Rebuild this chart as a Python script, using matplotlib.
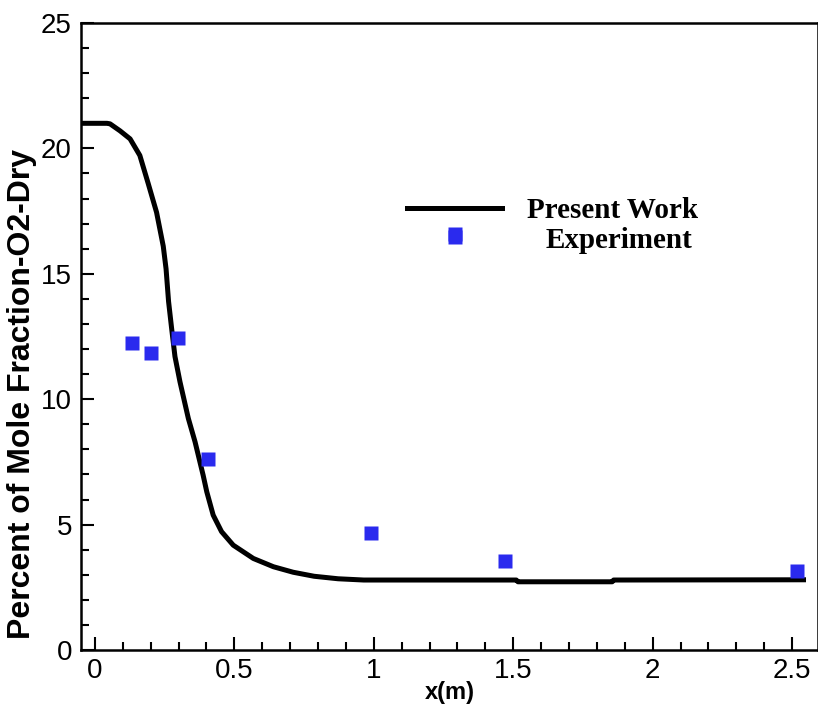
import matplotlib
matplotlib.use("Agg")
import matplotlib.pyplot as plt
from matplotlib.ticker import MultipleLocator, FormatStrFormatter
from matplotlib.lines import Line2D

# model curve (Present Work)
x_model = [-0.05, 0.043, 0.054, 0.09, 0.126, 0.161, 0.191, 0.221, 0.245, 0.255,
           0.264, 0.275, 0.287, 0.305, 0.335, 0.359, 0.388, 0.401, 0.424, 0.454,
           0.496, 0.568, 0.640, 0.711, 0.786, 0.872, 0.964, 1.2, 1.511, 1.517,
           1.855, 1.86, 2.55]
y_model = [21.0, 21.0, 20.98, 20.7, 20.38, 19.72, 18.6, 17.45, 16.1, 15.2,
           13.9, 12.82, 11.7, 10.69, 9.23, 8.30, 6.97, 6.31, 5.38, 4.72,
           4.18, 3.65, 3.32, 3.10, 2.94, 2.84, 2.79, 2.79, 2.79, 2.72,
           2.72, 2.79, 2.80]

# experimental points
x_exp = [0.134, 0.201, 0.299, 0.406, 0.989, 1.291, 1.471, 2.519]
y_exp = [12.25, 11.86, 12.46, 7.60, 4.68, 16.6, 3.55, 3.16]

blue = "#2a2aee"

fig = plt.figure(figsize=(8.18, 7.05), dpi=100)
ax = fig.add_axes([81 / 818, 55 / 705, 737 / 818, 627 / 705])

ax.plot(x_model, y_model, color="black", lw=3.6, solid_capstyle="butt")
ax.plot(x_exp, y_exp, ls="none", marker="s", ms=9.4, mec="none", color=blue)

ax.set_xlim(-0.05, 2.593)
ax.set_ylim(0, 25)

ax.xaxis.set_major_locator(MultipleLocator(0.5))
ax.xaxis.set_minor_locator(MultipleLocator(0.1))
ax.yaxis.set_major_locator(MultipleLocator(5))
ax.yaxis.set_minor_locator(MultipleLocator(1))
ax.xaxis.set_major_formatter(FormatStrFormatter("%g"))
ax.yaxis.set_major_formatter(FormatStrFormatter("%g"))

ax.tick_params(which="both", direction="in", top=False, right=False, width=1.5,
               labelsize=20, labelfontfamily="Liberation Sans")
ax.tick_params(which="major", length=9.4)
ax.tick_params(which="minor", length=6)
ax.tick_params(axis="x", pad=6)
ax.tick_params(axis="y", pad=6.5)
for s in ax.spines.values():
    s.set_linewidth(1.8)

ax.set_xlabel("x(m)", fontsize=17, fontweight="bold", family="Liberation Sans")
ax.xaxis.set_label_coords(0.5, -0.05)
ax.set_ylabel("Percent of Mole Fraction-O2-Dry", fontsize=23, fontweight="bold",
              family="Liberation Sans")
ax.yaxis.set_label_coords(-0.06, 0.409)

# legend, two rows placed separately
lfont = {"family": "Liberation Serif", "weight": "bold", "size": 21}
h1 = Line2D([], [], color="black", lw=3.6)
h2 = Line2D([], [], ls="none", marker="s", ms=9.4, mec="none", color=blue)
leg1 = ax.legend([h1], ["Present Work"], loc="center left", prop=lfont,
                 bbox_to_anchor=((407 - 81) / 737, (650 - 211) / 627),
                 frameon=False, borderpad=0, borderaxespad=0,
                 handlelength=3.26, handletextpad=0.86)
ax.add_artist(leg1)
ax.legend([h2], ["Experiment"], loc="center left", prop=lfont,
          bbox_to_anchor=((407 - 81) / 737, (650 - 240) / 627),
          frameon=False, borderpad=0, borderaxespad=0,
          handlelength=3.26, handletextpad=1.5)

fig.savefig("out.png", dpi=100)
